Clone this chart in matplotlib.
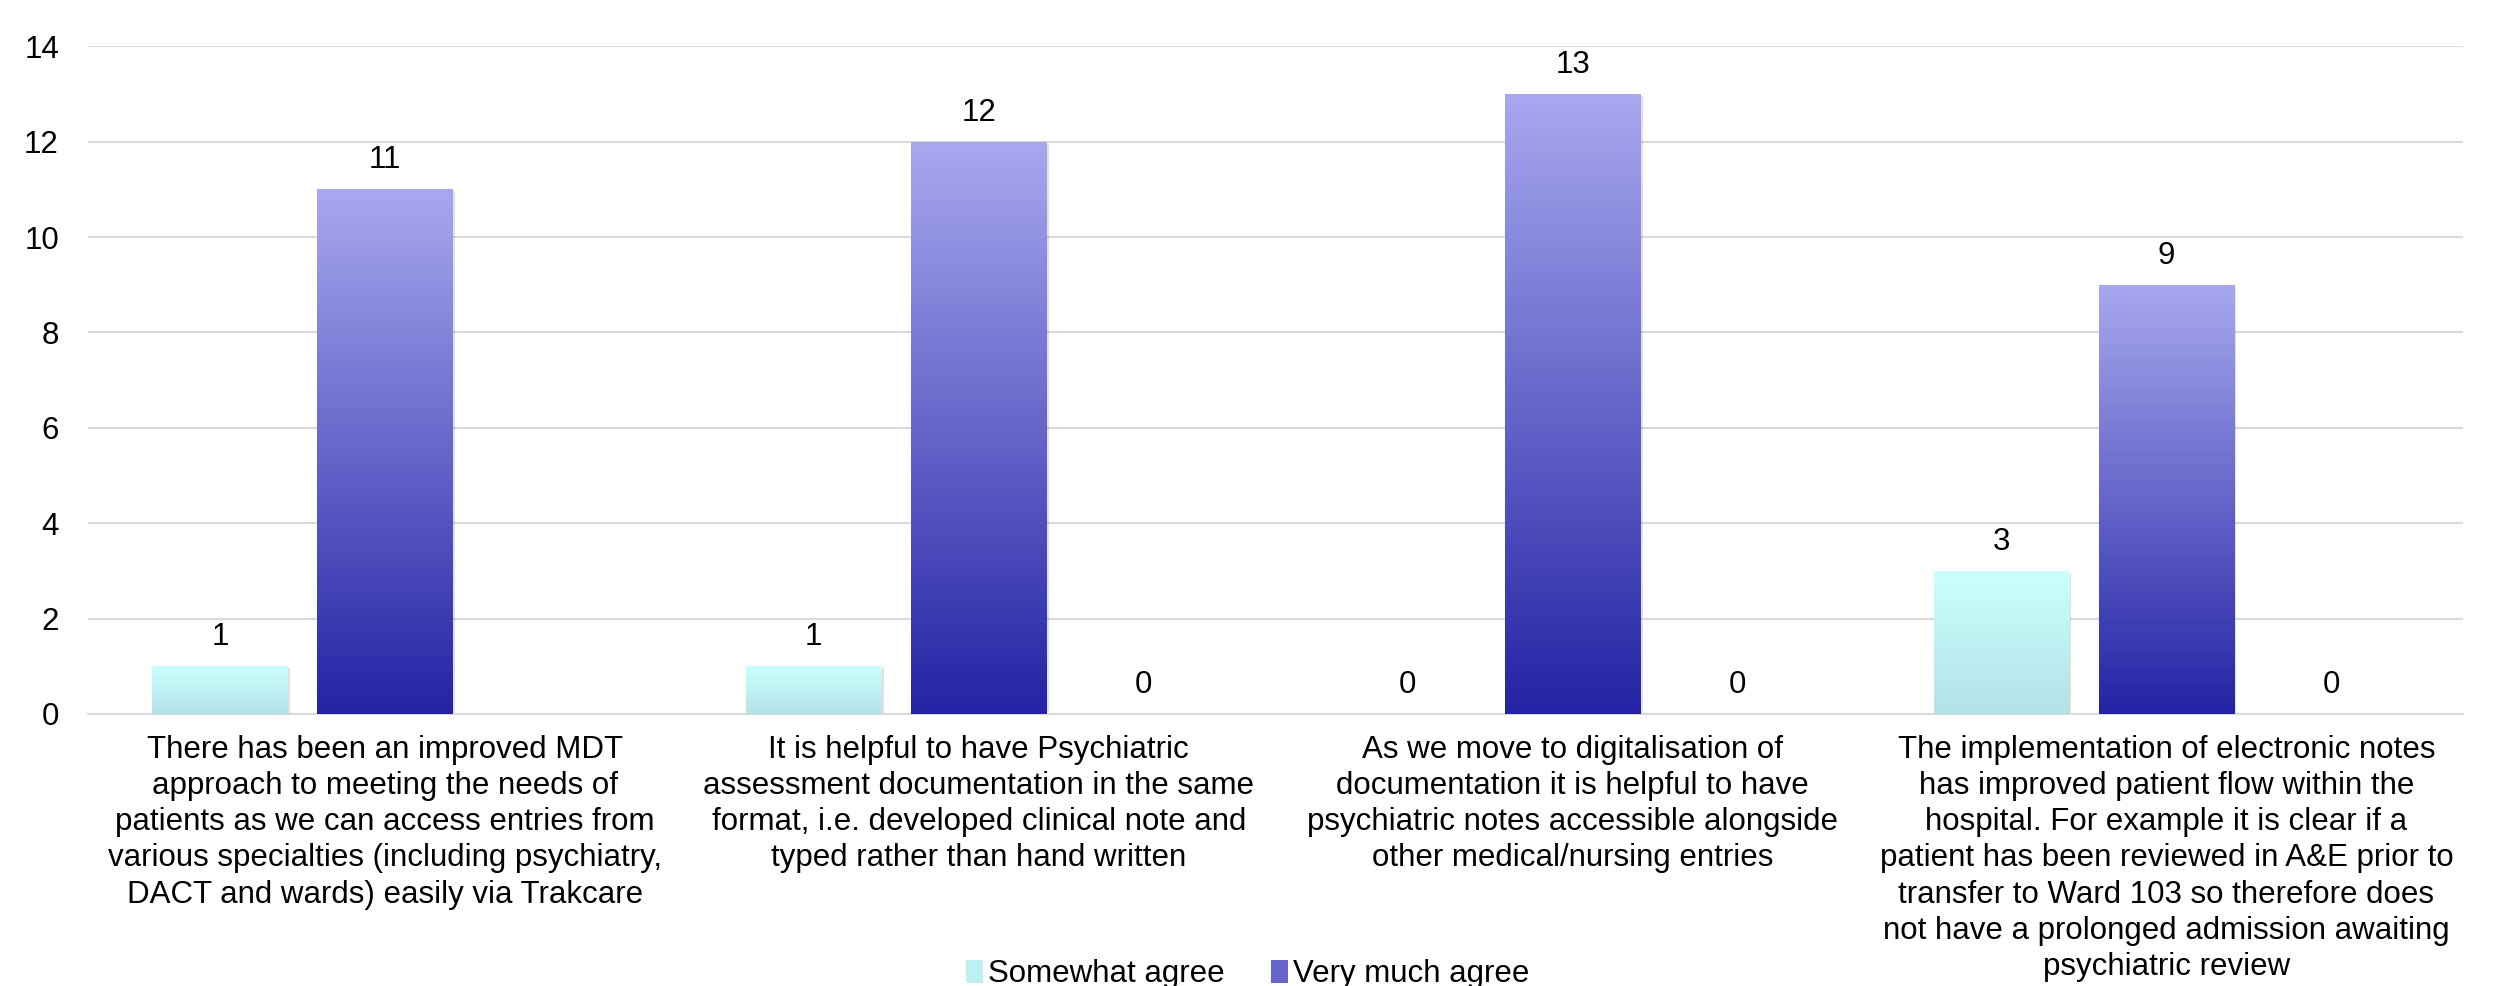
import numpy as np
import matplotlib
matplotlib.use('Agg')
import matplotlib.pyplot as plt
from matplotlib.colors import LinearSegmentedColormap
from matplotlib.patches import Patch

plt.rcParams['font.family'] = ['Liberation Sans', 'DejaVu Sans']

#==============================================================================
# Data
#==============================================================================
categories = [
    'There has been an improved MDT\napproach to meeting the needs of\npatients as we can access entries from\nvarious specialties (including psychiatry,\nDACT and wards) easily via Trakcare',
    'It is helpful to have Psychiatric\nassessment documentation in the same\nformat, i.e. developed clinical note and\ntyped rather than hand written',
    'As we move to digitalisation of\ndocumentation it is helpful to have\npsychiatric notes accessible alongside\nother medical/nursing entries',
    'The implementation of electronic notes\nhas improved patient flow within the\nhospital. For example it is clear if a\npatient has been reviewed in A&E prior to\ntransfer to Ward 103 so therefore does\nnot have a prolonged admission awaiting\npsychiatric review',
]
somewhat_agree = [1, 1, 0, 3]
very_much_agree = [11, 12, 13, 9]
third_series = [np.nan, 0, 0, 0]

series_names = ['Somewhat agree', 'Very much agree', '']
series_values = [somewhat_agree, very_much_agree, third_series]
# gradient colours, (top, bottom)
series_grad = [('#CCFFFF', '#B3E2E7'), ('#A8A8EF', '#2323A5'), ('#A0A0A0', '#808080')]

#==============================================================================
# Plot
#==============================================================================
fig = plt.figure(figsize=(24.95, 9.86), dpi=100)
ax = fig.add_axes([0.0353, 0.276, 0.952, 0.677])

x = np.arange(len(categories))
step = 0.278
width = 0.228
ax.set_xlim(-0.5, len(categories) - 0.5)
ax.set_ylim(0, 14)

for i, vals in enumerate(series_values):
    offs = (i - 1) * step
    top, bot = series_grad[i]
    cmap = LinearSegmentedColormap.from_list('g%d' % i, [bot, top])
    grad = np.linspace(0, 1, 256).reshape(-1, 1)
    for xi, v in zip(x, vals):
        if np.isnan(v):
            continue
        xb = xi + offs - width / 2
        if v > 0:
            # faint shadow
            sh = plt.Rectangle((xb + 0.004, -0.04), width, v, facecolor='#000000',
                               alpha=0.12, edgecolor='none', zorder=2)
            ax.add_patch(sh)
            rect = plt.Rectangle((xb, 0), width, v, facecolor='none',
                                 edgecolor='none', zorder=3)
            ax.add_patch(rect)
            im = ax.imshow(grad, cmap=cmap, origin='lower', aspect='auto',
                           extent=(xb, xb + width, 0, v), zorder=3)
            im.set_clip_path(rect)
        ax.annotate('%d' % v, (xi + offs, v), xytext=(0, 10),
                    textcoords='offset points', ha='center', va='bottom',
                    fontsize=22.5, color='black')

ax.set_xlim(-0.5, len(categories) - 0.5)
ax.set_ylim(0, 14)
ax.set_yticks(np.arange(0, 15, 2))
ax.set_xticks(x)
ax.set_xticklabels(categories, fontsize=22.5, linespacing=1.27)
ax.tick_params(axis='y', labelsize=22.5, length=0, pad=21)
ax.tick_params(axis='x', length=0, pad=15)
ax.grid(axis='y', color='#D9D9D9', linewidth=1.5, zorder=0)
ax.set_axisbelow(True)
for s in ['top', 'right', 'left']:
    ax.spines[s].set_visible(False)
ax.spines['bottom'].set_color('#D9D9D9')
ax.spines['bottom'].set_linewidth(1.5)

handles = [Patch(facecolor='#BDF0F3', edgecolor='none'),
           Patch(facecolor='#6464CC', edgecolor='none')]
fig.legend(handles, series_names[:2], loc='lower center', ncol=2,
           bbox_to_anchor=(0.5, -0.032), frameon=False, fontsize=22.5,
           handlelength=0.55, handleheight=0.75, handletextpad=0.15,
           columnspacing=1.5)

plt.savefig('out.png', dpi=100)
